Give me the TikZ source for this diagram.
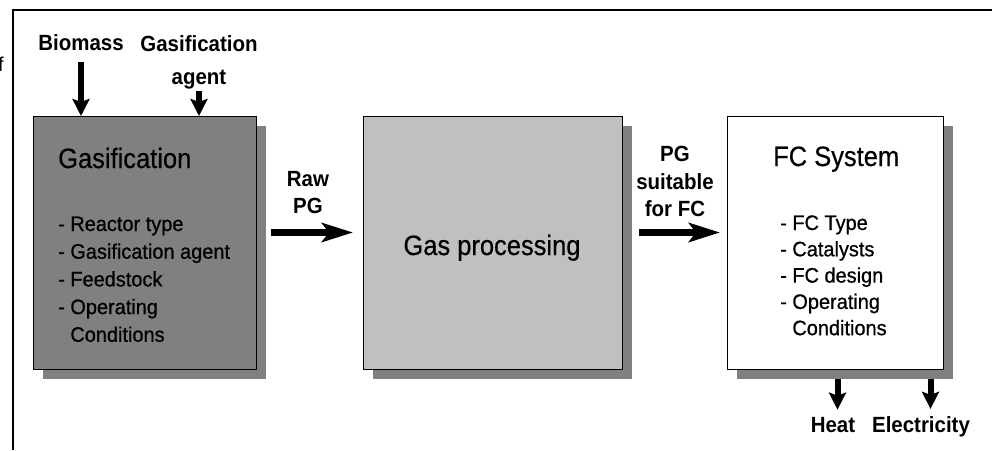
\documentclass[tikz,border=0pt]{standalone}
\usepackage{fontspec}
\setmainfont{Liberation Sans}
\newfontfamily\ttlfont[FakeStretch=0.91,FakeBold=0.4]{Liberation Sans}
\newfontfamily\lstfont[FakeStretch=0.95,FakeBold=0.7]{Liberation Sans}
\newfontfamily\lblfont[FakeStretch=0.93]{Liberation Sans Bold}
\usetikzlibrary{arrows.meta,shadows}
\definecolor{darkbox}{HTML}{808080}
\definecolor{lightbox}{HTML}{C0C0C0}
\definecolor{shadowgray}{HTML}{808080}
\begin{document}
\begin{tikzpicture}[x=1pt,y=-1pt,
  procbox/.style={draw=black, line width=1pt, inner sep=0pt, anchor=north west,
    drop shadow={shadow xshift=9pt, shadow yshift=-9pt, fill=shadowgray, opacity=1}},
  ttl/.style={inner sep=0pt, font=\ttlfont\fontsize{28}{30}\selectfont},
  lst/.style={inner sep=0pt, align=left, anchor=base west},
  lbl/.style={inner sep=0pt, align=center, font=\lblfont\fontsize{22}{27.5}\selectfont},
  varrow/.style={line width=6pt, -{Stealth[length=17pt,width=17pt,inset=3pt]}},
  harrow/.style={line width=7pt, -{Stealth[length=31pt,width=19pt,inset=7pt]}}
]
\useasboundingbox (0,0) rectangle (992,450);
% frame
\draw[line width=1.2pt] (13,450) -- (13,10) -- (992,10);
\node[inner sep=0pt, anchor=base east, font=\fontsize{20}{24}\selectfont] (frag) at (4,71) {f};

% boxes
\node[procbox, fill=darkbox, minimum width=223pt, minimum height=253pt] (gas) at (33,116) {};
\node[procbox, fill=lightbox, minimum width=259pt, minimum height=253pt] (gp) at (363,116) {};
\node[procbox, fill=white, minimum width=216pt, minimum height=253pt] (fc) at (727,116) {};

% titles
\node[ttl, anchor=base west] (gastitle) at (58,168) {Gasification};
\node[ttl, anchor=base] (gptitle) at (492,255) {Gas processing};
\node[ttl, anchor=base west] (fctitle) at (773,166) {FC System};

% lists (base anchor = baseline of the last line)
\node[lst, font=\lstfont\fontsize{21}{27.7}\selectfont] (gaslist) at (58,341.8)
  {- Reactor type\\- Gasification agent\\- Feedstock\\- Operating\\\phantom{- }Conditions};
\node[lst, font=\lstfont\fontsize{21}{26.3}\selectfont] (fclist) at (780,335.2)
  {- FC Type\\- Catalysts\\- FC design\\- Operating\\\phantom{- }Conditions};

% input / output labels
\node[lbl, anchor=base] (bio) at (81,50) {Biomass};
\node[lbl, anchor=south, font=\lblfont\fontsize{22}{33}\selectfont] (agent) at (199,89) {Gasification\\agent};
\node[lbl, anchor=south] (rawpg) at (308,214) {Raw\\PG};
\node[lbl, anchor=south] (pgfc) at (675,217) {PG\\suitable\\for FC};
\node[lbl, anchor=base] (heat) at (833,432) {Heat};
\node[lbl, anchor=base] (elec) at (921,432) {Electricity};

% connectors
\draw[varrow] ([yshift=-12pt]bio.south) -- (bio.south |- gas.north);
\draw[varrow] ([yshift=-2pt]agent.south) -- (agent.south |- gas.north);
\draw[harrow] ([xshift=14pt,yshift=10.5pt]gas.east) -- ([xshift=-10pt,yshift=10.5pt]gp.west);
\draw[harrow] ([xshift=16pt,yshift=10.5pt]gp.east) -- ([xshift=-7pt,yshift=10.5pt]fc.west);
\draw[varrow] ([xshift=2pt,yshift=-9pt]fc.south) coordinate (h0) -- ([yshift=7pt]h0 |- heat.north);
\draw[varrow] ([xshift=95pt,yshift=-9pt]fc.south) coordinate (e0) -- ([yshift=7pt]e0 |- elec.north);
\end{tikzpicture}
\end{document}
